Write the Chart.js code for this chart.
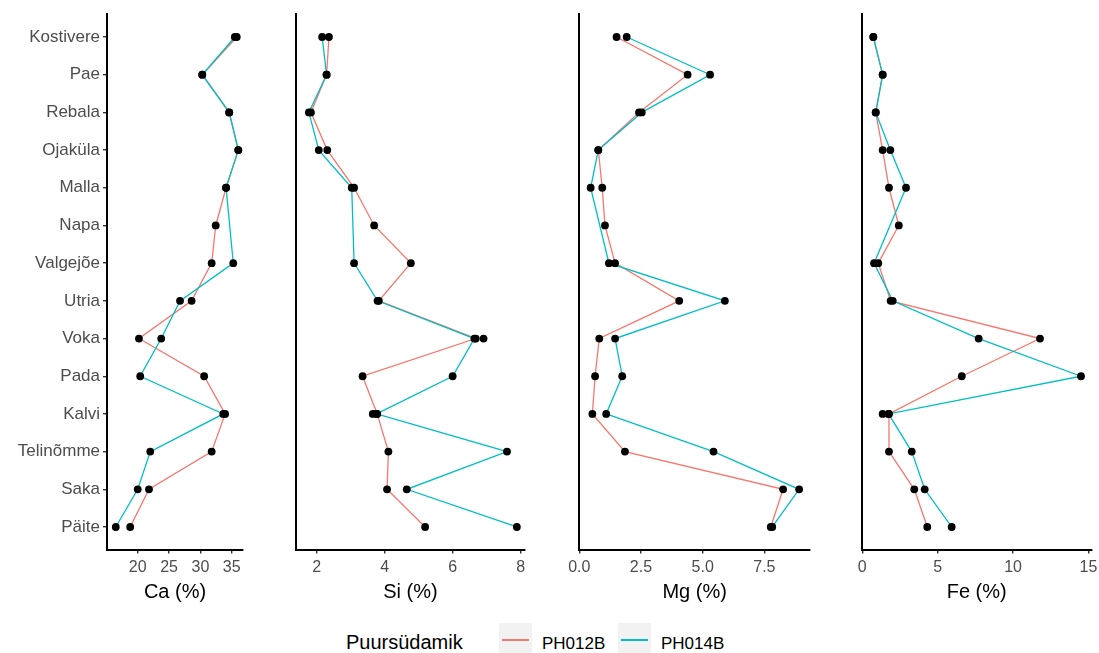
<!DOCTYPE html>
<html>
<head>
<meta charset="utf-8">
<script src="https://cdn.jsdelivr.net/npm/chart.js@4/dist/chart.umd.min.js"></script>
<style>
html,body{margin:0;padding:0;background:#fff;width:1099px;height:653px;overflow:hidden;font-family:"Liberation Sans",Arial,sans-serif;}
canvas{position:absolute;top:0;}
.lg{position:absolute;white-space:nowrap;color:#000;}
.key{position:absolute;background:#F2F2F2;}
.key i{position:absolute;left:3px;right:3px;top:16px;height:1.5px;display:block;}
</style>
</head>
<body>
<canvas id="c0" width="275" height="604" style="left:0px"></canvas>
<canvas id="c1" width="275" height="604" style="left:275px"></canvas>
<canvas id="c2" width="275" height="604" style="left:550px"></canvas>
<canvas id="c3" width="274" height="604" style="left:825px"></canvas>
<div id="legend"></div>
<script>
// ---------- data ----------
const sites = ['Kostivere','Pae','Rebala','Ojaküla','Malla','Napa','Valgejõe','Utria','Voka','Pada','Kalvi','Telinõmme','Saka','Päite'];
const seriesNames = ['PH012B','PH014B'];
const legendTitle = 'Puursüdamik';

const caPH012B = [35.8, 30.3, 34.6, 36.05, 34.1, 32.45, 31.8, 28.6, 20.2, 30.6, 33.95, 31.8, 21.8, 18.8];
const caPH014B = [35.5, 30.3, 34.6, 36.05, 34.1, null, 35.25, 26.75, 23.75, 20.4, 33.65, 22.0, 20.0, 16.5];

const siPH012B = [2.36, 2.29, 1.83, 2.31, 3.10, 3.69, 4.77, 3.83, 6.68, 3.35, 3.78, 4.11, 4.07, 5.19];
const siPH014B = [2.16, 2.29, 1.77, 2.06, 3.03, null, 3.10, 3.79, 6.64, 6.00, 3.76, 7.60, 4.65, 7.89];

const mgPH012B = [1.51, 4.39, 2.42, 0.77, 0.93, 1.04, 1.45, 4.05, 0.81, 0.64, 0.53, 1.85, 8.26, 7.76];
const mgPH014B = [1.92, 5.30, 2.53, 0.77, 0.46, null, 1.20, 5.90, 1.45, 1.74, 1.09, 5.44, 8.91, 7.82];

const fePH012B = [0.73, 1.35, 0.89, 1.35, 1.77, 2.42, 1.06, 1.88, 11.79, 6.60, 1.77, 1.77, 3.45, 4.31];
const fePH014B = [0.73, 1.35, 0.89, 1.86, 2.90, null, 0.78, 2.02, 7.72, 14.51, 1.74, 3.28, 4.14, 5.93];

// additional sample points drawn without a line
const extraElement = ['Si', 'Si', 'Fe'];
const extraSite = ['Voka', 'Kalvi', 'Kalvi'];
const extraValue = [6.91, 3.65, 1.35];

const elementNames = ['Ca', 'Si', 'Mg', 'Fe'];
const axisTitles = ['Ca (%)', 'Si (%)', 'Mg (%)', 'Fe (%)'];
const xTicks = [[20, 25, 30, 35], [2, 4, 6, 8], [0, 2.5, 5, 7.5], [0, 5, 10, 15]];
const values = {Ca: [caPH012B, caPH014B], Si: [siPH012B, siPH014B], Mg: [mgPH012B, mgPH014B], Fe: [fePH012B, fePH014B]};

// ---------- layout / style ----------
const colors = ['#F8766D', '#00BFC4'];
const panelLayout = [
  {left: 0,   width: 275, plotLeft: 107,   plotRight: 243,    min: 15.1, max: 36.8, dec: 0},
  {left: 275, width: 275, plotLeft: 296,   plotRight: 525,    min: 1.39, max: 8.13, dec: 0},
  {left: 550, width: 275, plotLeft: 579.3, plotRight: 810,    min: 0,    max: 9.35, dec: 1},
  {left: 825, width: 274, plotLeft: 862,   plotRight: 1091.4, min: -0.02, max: 15.2, dec: 0}
];
const H = 604, plotTop = 14.4, plotBottom = 549.6;
const FONT = '"Liberation Sans", Arial, sans-serif';

function toPoints(arr) {
  const pts = [];
  arr.forEach((v, i) => { if (v !== null && v !== undefined) pts.push({x: v, y: i}); });
  return pts;
}

elementNames.forEach((el, p) => {
  const L = panelLayout[p];
  const [a, b] = values[el];
  const extras = [];
  extraElement.forEach((e, k) => { if (e === el) extras.push({x: extraValue[k], y: sites.indexOf(extraSite[k])}); });
  const datasets = [
    {label: seriesNames[0], data: toPoints(a), showLine: true, borderColor: colors[0], borderWidth: 1.3, pointRadius: 0, order: 3},
    {label: seriesNames[1], data: toPoints(b), showLine: true, borderColor: colors[1], borderWidth: 1.3, pointRadius: 0, order: 2},
    {label: 'points', data: toPoints(a).concat(toPoints(b)).concat(extras), showLine: false, pointRadius: 3.9, pointBackgroundColor: '#000', pointBorderWidth: 0, order: 1}
  ];
  const first = p === 0;
  new Chart(document.getElementById('c' + p), {
    type: 'scatter',
    data: {datasets},
    options: {
      responsive: false,
      animation: false,
      events: [],
      devicePixelRatio: 1,
      layout: {padding: {left: 0, right: L.left + L.width - L.plotRight, top: plotTop, bottom: 0}},
      plugins: {legend: {display: false}, tooltip: {enabled: false}},
      scales: {
        x: {
          type: 'linear', position: 'bottom', min: L.min, max: L.max,
          afterBuildTicks: s => { s.ticks = xTicks[p].map(v => ({value: v})); },
          afterFit: s => { s.height = H - plotBottom; s.paddingLeft = 0; s.paddingRight = 0; },
          grid: {display: true, drawOnChartArea: false, drawTicks: true, tickLength: 4, color: '#333', lineWidth: 1.4},
          border: {display: true, color: '#000', width: 2},
          ticks: {color: '#4D4D4D', font: {family: FONT, size: 16}, padding: 4, maxRotation: 0, autoSkip: false,
                  callback: v => Number(v).toFixed(L.dec)},
          title: {display: true, text: axisTitles[p], color: '#000', font: {family: FONT, size: 20}, padding: {top: 0, bottom: 0}}
        },
        y: {
          type: 'linear', position: 'left', reverse: true, min: -0.6, max: 13.6,
          afterBuildTicks: s => { s.ticks = sites.map((n, i) => ({value: i})); },
          afterFit: s => { s.width = L.plotLeft - L.left; s.paddingTop = 0; s.paddingBottom = 0; },
          grid: {display: first, drawOnChartArea: false, drawTicks: true, tickLength: 4, color: '#333', lineWidth: 1.4},
          border: {display: true, color: '#000', width: 2},
          ticks: {display: first, color: '#4D4D4D', font: {family: FONT, size: 17}, padding: 3, autoSkip: false,
                  callback: v => sites[v]}
        }
      }
    }
  });
});

// ---------- legend (HTML text) ----------
const lg = document.getElementById('legend');
function add(html) { lg.insertAdjacentHTML('beforeend', html); }
add(`<div class="lg" style="left:346px;top:632px;font-size:20px;line-height:20px;">${legendTitle}</div>`);
const keyLefts = [499, 618];
const labelLefts = [542, 661];
seriesNames.forEach((n, i) => {
  add(`<div class="key" style="left:${keyLefts[i]}px;top:623px;width:33px;height:34px;"><i style="background:${colors[i]}"></i></div>`);
  add(`<div class="lg" style="left:${labelLefts[i]}px;top:635px;font-size:17px;line-height:17px;">${n}</div>`);
});
</script>
</body>
</html>
